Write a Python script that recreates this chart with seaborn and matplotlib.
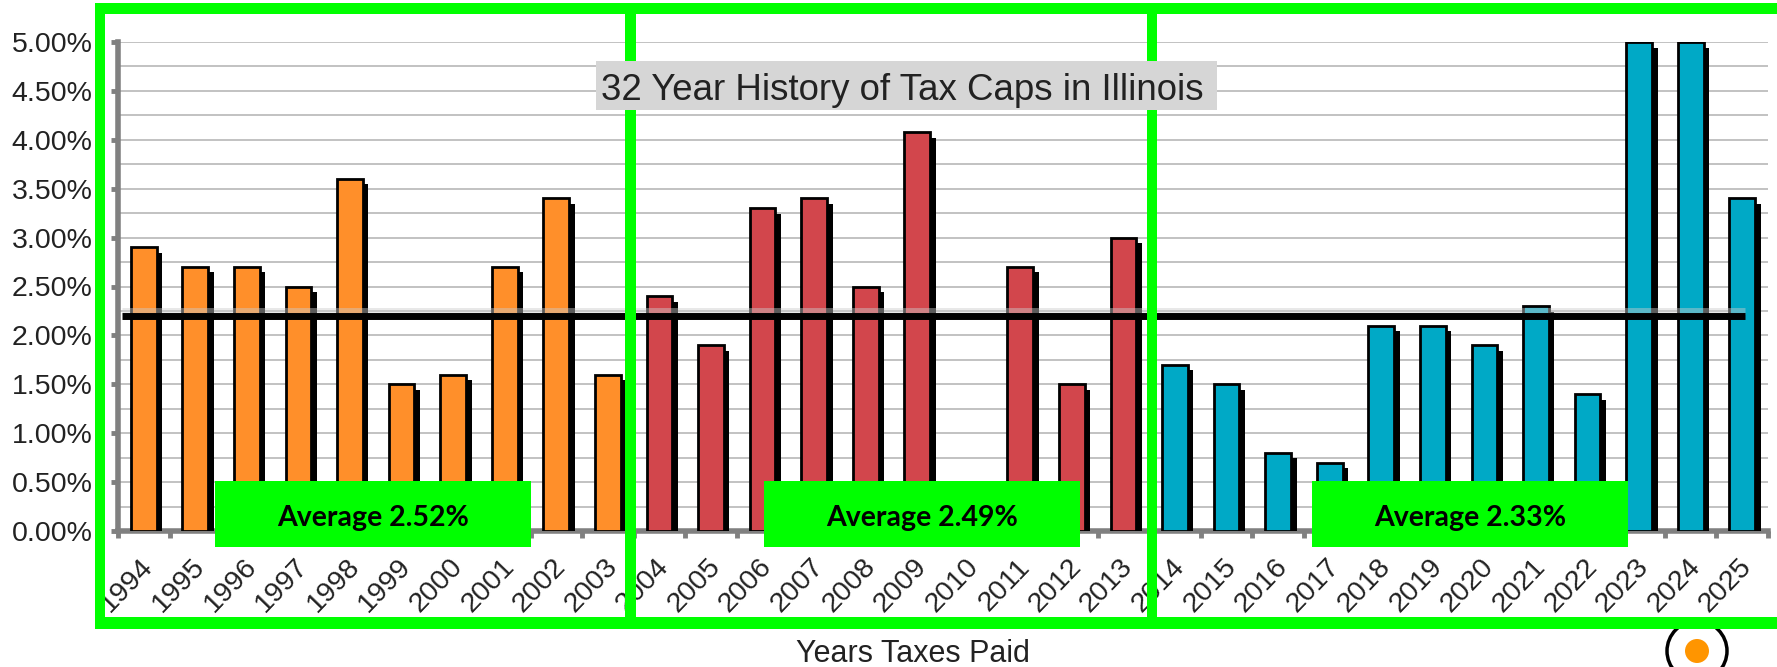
import numpy as np
import pandas as pd
from matplotlib import pyplot as plt
import matplotlib.patheffects as pe
from matplotlib.patches import Rectangle, Circle
from matplotlib.transforms import ScaledTranslation
import seaborn as sns

years = [str(y) for y in range(1994, 2026)]
caps_1 = [2.9, 2.7, 2.7, 2.5, 3.6, 1.5, 1.6, 2.7, 3.4, 1.6]
caps_2 = [2.4, 1.9, 3.3, 3.4, 2.5, 4.08, 0.0, 2.7, 1.5, 3.0]
caps_3 = [1.7, 1.5, 0.8, 0.7, 2.1, 2.1, 1.9, 2.3, 1.4, 5.0, 5.0, 3.4]
eras = ['a'] * 10 + ['b'] * 10 + ['c'] * 12
era_colors = {'a': '#FF8F2A', 'b': '#D2464C', 'c': '#00A9C6'}
overall = 2.2
avg_labels = ['Average 2.52%', 'Average 2.49%', 'Average 2.33%']
title = '32 Year History of Tax Caps in Illinois'
xlabel = 'Years Taxes Paid'

W, H = 1777, 667
GREEN = '#00FF00'

sns.set_theme(style='white')
plt.rcParams['font.family'] = ['Liberation Sans', 'DejaVu Sans']

df = pd.DataFrame({'year': years, 'cap': caps_1 + caps_2 + caps_3, 'era': eras})

f = plt.figure(figsize=(W / 100, H / 100), dpi=100)
ax = f.add_axes([118 / W, 1 - 531 / H, (1768 - 118) / W, (531 - 42) / H])

sns.barplot(data=df, x='year', y='cap', hue='era', palette=era_colors, dodge=False,
            width=0.5, edgecolor='black', linewidth=2, saturation=1, legend=False, ax=ax, zorder=3)
for bar in ax.patches:
    bar.set_path_effects([pe.SimplePatchShadow(offset=(4, -4), shadow_rgbFace='black', alpha=1),
                          pe.Normal()])

# average line with its faint shadow
ax.plot([-0.42, 31.05], [overall + 0.045, overall + 0.045], color='#CCCCCC', lw=5, alpha=0.45, zorder=4,
        solid_capstyle='butt')
ax.plot([-0.42, 31.05], [overall, overall], color='black', lw=5, zorder=5, solid_capstyle='butt')

ax.set_xlim(-0.5, 31.5)
ax.set_ylim(0, 5)
ax.set_yticks(np.arange(0, 5.01, 0.5))
ax.set_yticklabels([f'{v:.2f}%' for v in np.arange(0, 5.01, 0.5)], fontsize=20.5, color='#222222')
ax.set_yticks(np.arange(0.25, 5, 0.5), minor=True)
ax.grid(axis='y', which='both', color='#BDBDBD', lw=1.3, zorder=0)
ax.set_axisbelow(True)

ax.set_xticks(np.arange(-0.5, 32, 1), minor=True)
ax.set_xticks(range(32))
ax.set_xticklabels(years, rotation=46, ha='right', va='center', rotation_mode='anchor', fontsize=20.5, color='#222222')
ax.tick_params(axis='x', which='major', length=0, pad=23)
ax.tick_params(axis='x', which='minor', length=5, width=3.5, color='#808080', bottom=True)
ax.tick_params(axis='y', which='major', length=5, width=3.5, color='#808080', left=True, pad=13.5)
ax.tick_params(axis='y', which='minor', length=0)
for lab in ax.get_xticklabels():
    lab.set_transform(lab.get_transform() + ScaledTranslation(4 / 72, 0, f.dpi_scale_trans))
ax.spines['top'].set_visible(False)
ax.spines['right'].set_visible(False)
ax.spines['left'].set(color='#808080', lw=4)
ax.spines['bottom'].set(color='#808080', lw=4)
ax.set_xlabel('')
ax.set_ylabel('')


def px_rect(x0, y0, x1, y1, color, z):
    r = Rectangle((x0 / W, 1 - y1 / H), (x1 - x0) / W, (y1 - y0) / H, transform=f.transFigure,
                  facecolor=color, edgecolor='none', zorder=z)
    f.add_artist(r)


# ring at the bottom right, the frame runs over it
ring = Circle((1697, H - 651), 30, transform=None, facecolor='white', edgecolor='black', lw=2.5, zorder=4)
f.add_artist(ring)
dot = Circle((1697, H - 651), 12, transform=None, facecolor='#FF9500', edgecolor='none', zorder=4.5)
f.add_artist(dot)

# green frame
px_rect(95, 3, W, 14, GREEN, 5)
px_rect(95, 617, W, 629, GREEN, 5)
px_rect(95, 3, 105, 629, GREEN, 5)
px_rect(625, 3, 636, 629, GREEN, 5)
px_rect(1147, 3, 1157, 629, GREEN, 5)

# average boxes
for x0, label in zip([215, 764, 1312], avg_labels):
    px_rect(x0, 481, x0 + 316, 547, GREEN, 6)
    f.text((x0 + 158) / W, 1 - 518 / H, label, ha='center', va='center', fontsize=20.5,
           family='Lato', weight='bold', color='black', zorder=7)

# title box
px_rect(596, 61, 1217, 110, '#D6D6D6', 6)
f.text(902 / W, 1 - 90 / H, title, ha='center', va='center', fontsize=26.4, color='#222222', zorder=7)

f.text(913 / W, 1 - 654 / H, xlabel, ha='center', va='center', fontsize=22, color='#222222', zorder=7)

plt.savefig('out.png', dpi=100)
